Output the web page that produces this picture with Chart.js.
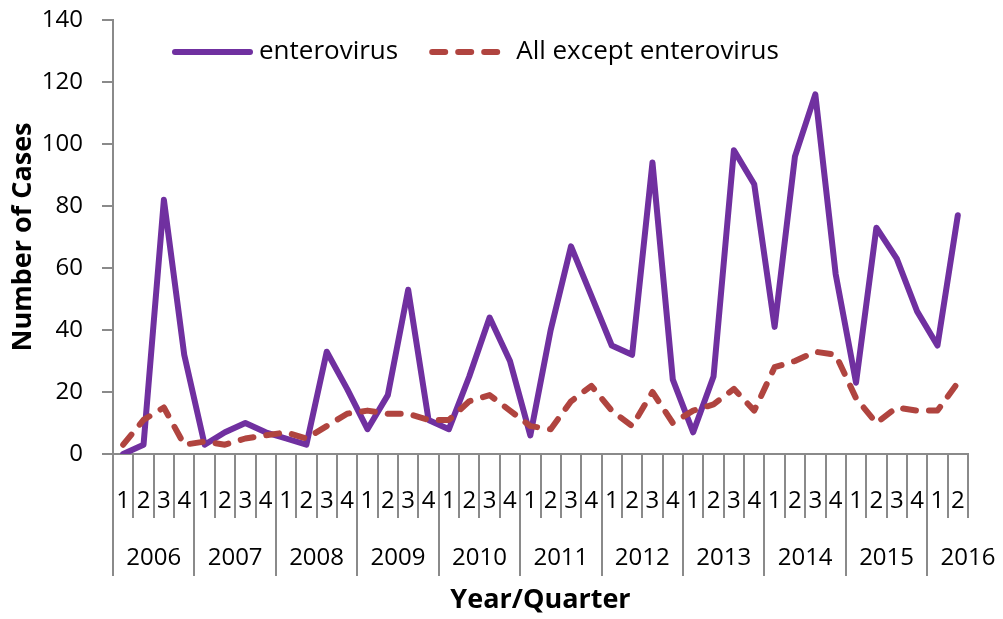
<!DOCTYPE html>
<html>
<head>
<meta charset="utf-8">
<title>Enterovirus cases by quarter</title>
<script src="https://cdn.jsdelivr.net/npm/chart.js@4.4.1/dist/chart.umd.min.js"></script>
<style>
    html, body { margin: 0; padding: 0; background: #fff; }
</style>
</head>
<body>
<canvas id="casesChart" width="1003" height="619"></canvas>
<script>
// Quarterly case counts, 2006 Q1 - 2016 Q2
const years = ['2006', '2007', '2008', '2009', '2010', '2011', '2012', '2013', '2014', '2015', '2016'];
const quarters = [
    '1', '2', '3', '4', '1', '2', '3', '4', '1', '2', '3', '4',
    '1', '2', '3', '4', '1', '2', '3', '4', '1', '2', '3', '4',
    '1', '2', '3', '4', '1', '2', '3', '4', '1', '2', '3', '4',
    '1', '2', '3', '4', '1', '2'
];
const enterovirus = [
    0, 3, 82, 32,   3, 7, 10, 7,    5, 3, 33, 21,   8, 19, 53, 11,
    8, 25, 44, 30,  6, 40, 67, 51,  35, 32, 94, 24, 7, 25, 98, 87,
    41, 96, 116, 58, 23, 73, 63, 46, 35, 77
];
const otherCases = [
    3, 11, 15, 3,   4, 3, 5, 6,     7, 5, 9, 13,    14, 13, 13, 11,
    11, 17, 19, 14, 9, 8, 17, 22,   14, 9, 20, 10,  14, 16, 21, 14,
    28, 30, 33, 32, 18, 10, 15, 14, 14, 23
];
const yMin = 0, yMax = 140, yStep = 20;

const FONT = '"Open Sans", "Liberation Sans", sans-serif';
const AXIS_COLOR = '#8a8a8a';
const PURPLE = '#7030a0';
const RED = '#b0443f';

// Year row under the quarter labels, plus the separator lines Excel-style
const yearAxisPlugin = {
    id: 'yearAxis',
    afterDraw(chart) {
        const { ctx, scales: { x } } = chart;
        const n = quarters.length;
        const catWidth = (x.right - x.left) / n;
        const edge = i => i === 0 ? x.left : i === n ? x.right
            : (x.getPixelForValue(i - 1) + x.getPixelForValue(i)) / 2;
        const top = x.top;

        ctx.save();
        ctx.strokeStyle = AXIS_COLOR;
        ctx.lineWidth = 2;
        for (let i = 0; i <= n; i++) {
            const yearStart = i < n && quarters[i] === '1';
            const px = Math.round(edge(i));
            ctx.beginPath();
            ctx.moveTo(px, top);
            ctx.lineTo(px, top + (yearStart ? 122 : 64));
            ctx.stroke();
        }

        ctx.fillStyle = '#000';
        ctx.font = '24px ' + FONT;
        ctx.textAlign = 'center';
        ctx.textBaseline = 'middle';
        let yearIdx = 0;
        for (let i = 0; i < n; i++) {
            if (quarters[i] !== '1') continue;
            // label centred over a full four-quarter span
            ctx.fillText(years[yearIdx++], edge(i) + 2 * catWidth, top + 104);
        }
        ctx.restore();
    }
};

// Legend drawn inside the plot area, line samples with round caps
const legendPlugin = {
    id: 'insideLegend',
    afterDraw(chart) {
        const { ctx, chartArea } = chart;
        const y = chartArea.top + 32;
        let x = chartArea.left + 62;
        const sampleLen = 75;

        ctx.save();
        ctx.font = '26px ' + FONT;
        ctx.textBaseline = 'middle';
        chart.data.datasets.forEach(ds => {
            ctx.strokeStyle = ds.borderColor;
            ctx.lineWidth = ds.borderWidth;
            ctx.lineCap = 'round';
            ctx.setLineDash(ds.borderDash || []);
            ctx.beginPath();
            ctx.moveTo(x, y);
            ctx.lineTo(x + sampleLen, y);
            ctx.stroke();
            ctx.setLineDash([]);
            ctx.fillStyle = '#000';
            const tx = x + sampleLen + 9;
            ctx.fillText(ds.label, tx, y);
            x = tx + ctx.measureText(ds.label).width + 34;
        });
        ctx.restore();
    }
};

const ctx = document.getElementById('casesChart');
new Chart(ctx, {
    type: 'line',
    data: {
        labels: quarters,
        datasets: [
            {
                label: 'enterovirus',
                data: enterovirus,
                borderColor: PURPLE,
                borderWidth: 6,
                borderCapStyle: 'round',
                borderJoinStyle: 'round',
                pointRadius: 0,
                tension: 0,
                fill: false,
                order: 2
            },
            {
                label: 'All except enterovirus',
                data: otherCases,
                borderColor: RED,
                borderWidth: 6,
                borderDash: [13, 13],
                borderCapStyle: 'round',
                borderJoinStyle: 'round',
                pointRadius: 0,
                tension: 0,
                fill: false,
                order: 1
            }
        ]
    },
    options: {
        responsive: false,
        animation: false,
        devicePixelRatio: 1,
        layout: { padding: { left: 7, right: 35, top: 20, bottom: 2 } },
        plugins: {
            legend: { display: false },
            tooltip: { enabled: false }
        },
        scales: {
            x: {
                type: 'category',
                offset: true,
                grid: { display: false, drawTicks: false },
                border: { display: true, color: AXIS_COLOR, width: 2 },
                ticks: {
                    color: '#000',
                    font: { family: FONT, size: 24 },
                    padding: 33,
                    autoSkip: false,
                    maxRotation: 0
                },
                title: {
                    display: true,
                    text: 'Year/Quarter',
                    color: '#000',
                    font: { family: FONT, size: 27, weight: 'bold' },
                    padding: { top: 0, bottom: 0 }
                },
                afterFit: s => { s.height = 163; }
            },
            y: {
                min: yMin,
                max: yMax,
                grid: {
                    drawOnChartArea: false,
                    drawTicks: true,
                    tickLength: 11,
                    color: AXIS_COLOR,
                    lineWidth: 2
                },
                border: { display: true, color: AXIS_COLOR, width: 2 },
                ticks: {
                    stepSize: yStep,
                    color: '#000',
                    font: { family: FONT, size: 24 },
                    padding: 19
                },
                title: {
                    display: true,
                    text: 'Number of Cases',
                    color: '#000',
                    font: { family: FONT, size: 27, weight: 'bold' },
                    padding: { top: 0, bottom: 0 }
                },
                afterFit: s => {
                    s.width = 106;
                    // top label may overhang into the layout padding
                    s.paddingTop = 0;
                    s.paddingBottom = 0;
                }
            }
        }
    },
    plugins: [yearAxisPlugin, legendPlugin]
});
</script>
</body>
</html>
